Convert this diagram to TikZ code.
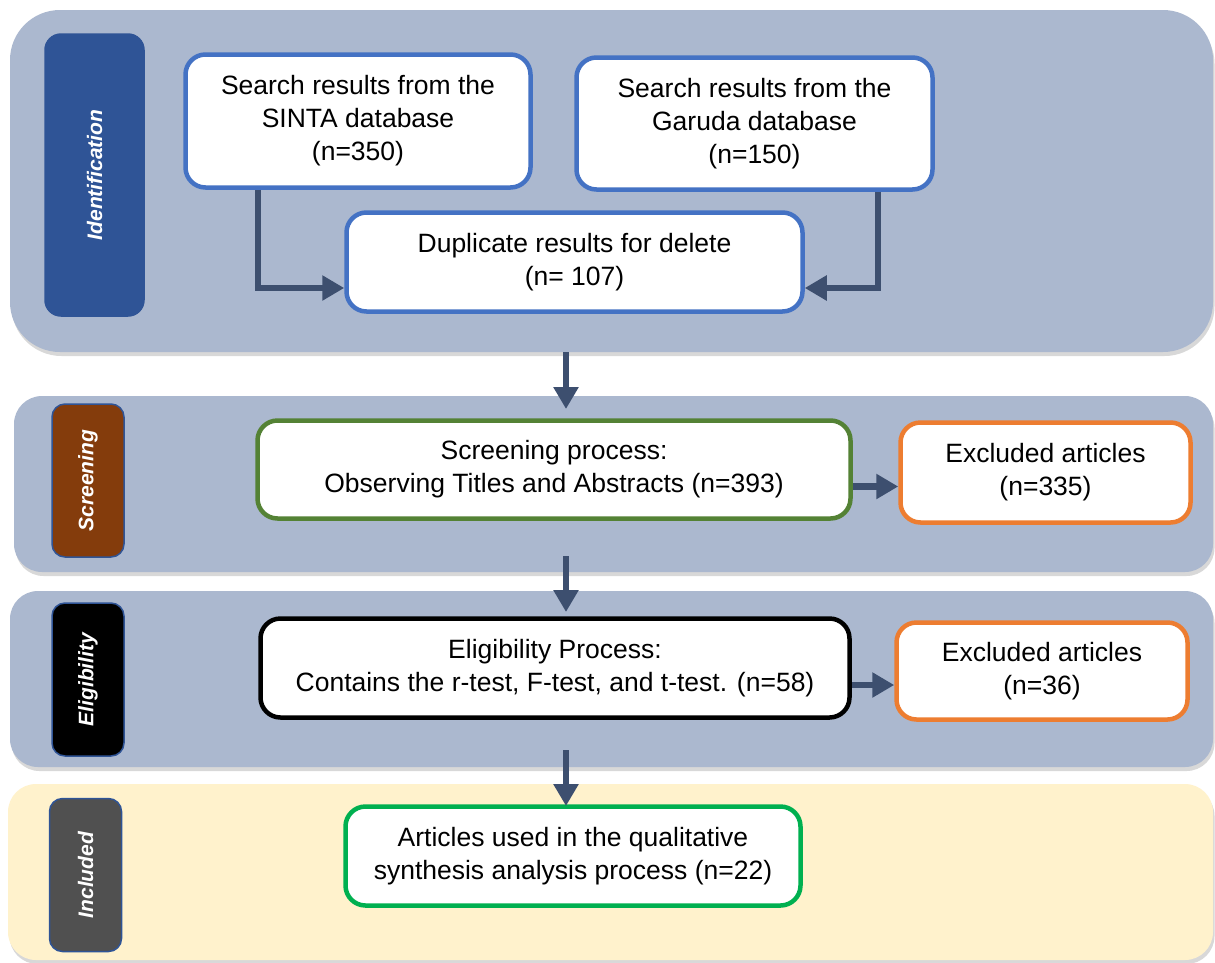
\documentclass[tikz,border=0pt]{standalone}
\usepackage{fontspec}
\setmainfont{Liberation Sans}
\usetikzlibrary{arrows.meta,shadows}
\definecolor{bandblue}{HTML}{ABB8CF}
\definecolor{bandyellow}{HTML}{FFF2CC}
\definecolor{idblue}{HTML}{2F5496}
\definecolor{scrbrown}{HTML}{843C0C}
\definecolor{incgray}{HTML}{505050}
\definecolor{boxblue}{HTML}{4472C4}
\definecolor{boxgreen}{HTML}{548235}
\definecolor{boxorange}{HTML}{ED7D31}
\definecolor{boxbright}{HTML}{00B050}
\definecolor{arrc}{HTML}{3D4F6F}
\begin{document}
\begin{tikzpicture}[x=1pt,y=-1pt,
  band/.style={fill=#1, draw=none, inner sep=0pt,
    drop shadow={shadow xshift=1.5pt, shadow yshift=-4pt, opacity=0.25, fill=black!60}},
  lab/.style={fill=#1, draw=idblue, line width=1.5pt, rounded corners=13pt,
    rotate=90, text=white, inner sep=0pt,
    font=\bfseries\itshape\fontsize{21}{25}\selectfont},
  box/.style={draw=#1, line width=4.5pt, fill=white, rounded corners=20pt,
    align=center, inner sep=0pt, font=\fontsize{26.5}{33}\selectfont},
  arr/.style={draw=arrc, line width=6.5pt,
    -{Triangle[length=22pt,width=24pt]}}
]
\useasboundingbox[fill=white] (0,0) rectangle (1215,962);

% bands
\node[band=bandblue, rounded corners=50pt, minimum width=1203pt, minimum height=342pt] (band1) at (611.5,181) {};
\node[band=bandblue, rounded corners=28pt, minimum width=1199pt, minimum height=176pt] (band2) at (613.5,484) {};
\node[band=bandblue, rounded corners=28pt, minimum width=1203pt, minimum height=176pt] (band3) at (611.5,679) {};
\node[band=bandyellow, rounded corners=28pt, minimum width=1205pt, minimum height=176pt] (band4) at (610.5,872) {};

% stage labels
\node[lab=idblue, minimum width=282pt, minimum height=99pt, rounded corners=16pt] (l1) at (94.5,175) {Identification};
\node[lab=scrbrown, minimum width=153pt, minimum height=72pt] (l2) at (88,480.5) {Screening};
\node[lab=black, minimum width=153pt, minimum height=72pt] (l3) at (88,679.5) {Eligibility};
\node[lab=incgray, minimum width=153pt, minimum height=72pt] (l4) at (85.5,875) {Included};

% boxes
\node[box=boxblue, minimum width=345pt, minimum height=133pt] (sinta) at (358,121)
  {Search results from the\\SINTA database\\(n=350)};
\node[box=boxblue, minimum width=356pt, minimum height=132pt] (garuda) at (754.5,123.5)
  {Search results from the\\Garuda database\\(n=150)};
\node[box=boxblue, minimum width=456pt, minimum height=99pt] (dup) at (574.5,262)
  {Duplicate results for delete\\(n= 107)};
\node[box=boxgreen, minimum width=593pt, minimum height=98pt] (scr) at (554,469.5)
  {Screening process:\\Observing Titles and Abstracts (n=393)};
\node[box=boxorange, minimum width=290pt, minimum height=100pt] (exc1) at (1045.5,472.5)
  {Excluded articles\\(n=335)};
\node[box=black, minimum width=589pt, minimum height=99pt] (elig) at (555,668)
  {Eligibility Process:\\Contains the r-test, F-test, and t-test. (n=58)};
\node[box=boxorange, minimum width=291pt, minimum height=97pt] (exc2) at (1042,671)
  {Excluded articles\\(n=36)};
\node[box=boxbright, minimum width=455pt, minimum height=99pt] (art) at (573,856)
  {Articles used in the qualitative\\synthesis analysis process (n=22)};

% connectors
\draw[arr] ([xshift=-100pt]sinta.south) |- ([yshift=-26pt]dup.west);
\draw[arr] ([xshift=123.5pt]garuda.south) |- ([yshift=-26pt]dup.east);

\coordinate (h1) at ([yshift=-17pt]scr.east);
\draw[arr] (h1) -- (h1 -| exc1.west);
\coordinate (h2) at ([yshift=-17pt]elig.east);
\draw[arr] (h2) -- (h2 -| exc2.west);

\coordinate (d1a) at (566,352);
\coordinate (d1b) at (566,409);
\coordinate (d2a) at (566,556);
\coordinate (d2b) at (566,612);
\coordinate (d3a) at (566,750);
\coordinate (d3b) at (566,806);
\draw[arr] (d1a) -- (d1b);
\draw[arr] (d2a) -- (d2b);
\draw[arr] (d3a) -- (d3b);
\end{tikzpicture}
\end{document}
